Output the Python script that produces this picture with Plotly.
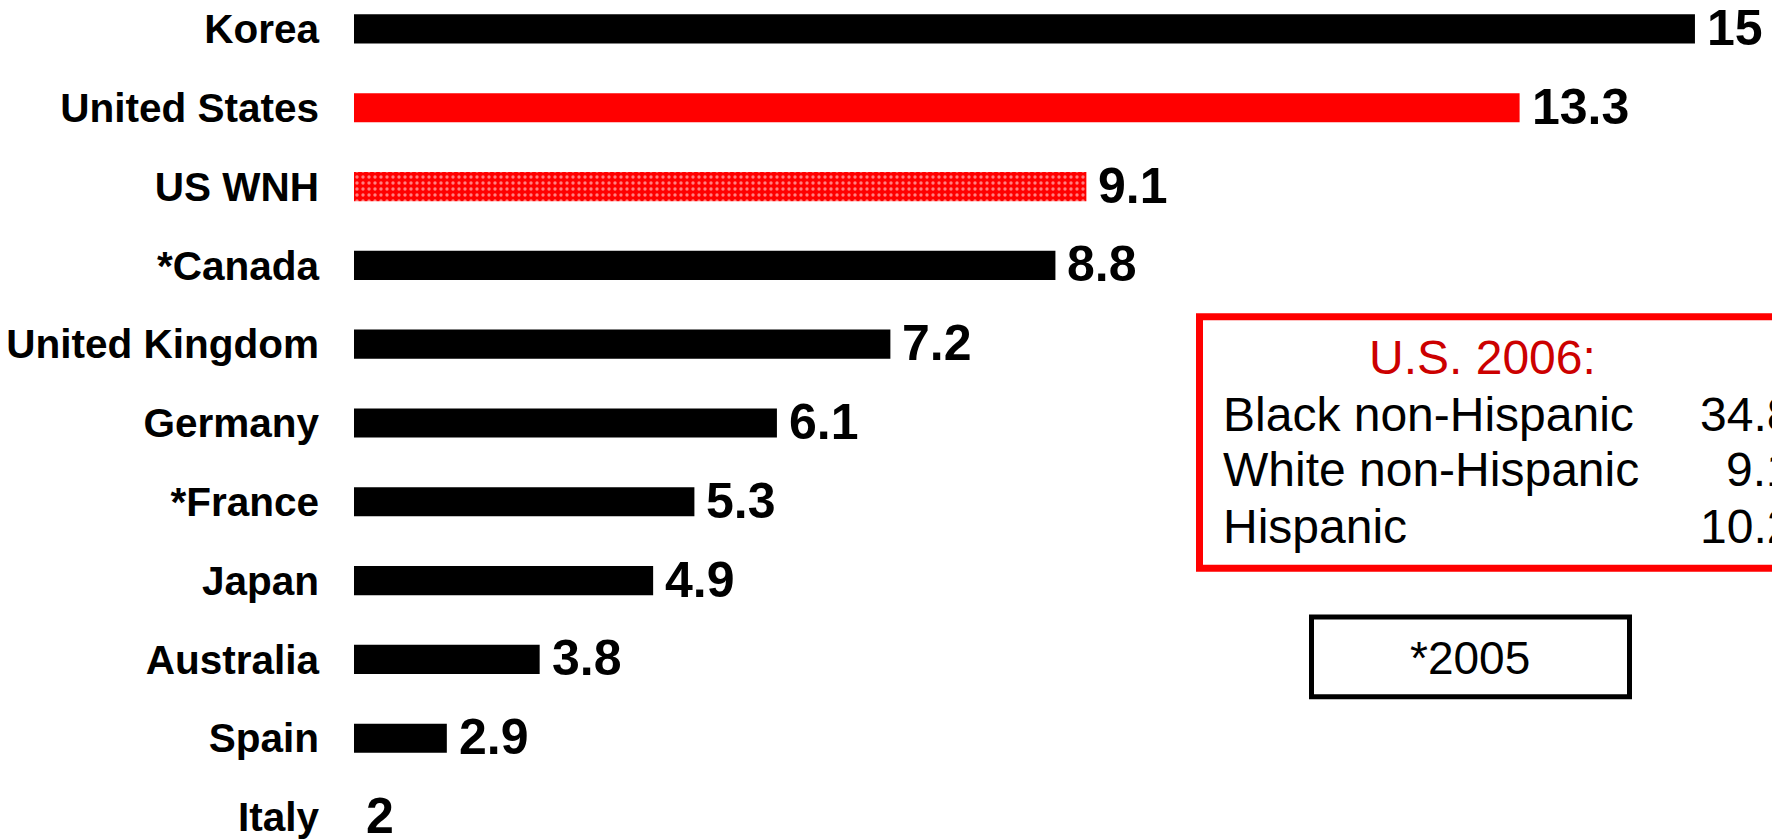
import plotly.graph_objects as go

countries = ["Korea", "United States", "US WNH", "*Canada", "United Kingdom", "Germany",
             "*France", "Japan", "Australia", "Spain", "Italy"]
values = [15, 13.3, 9.1, 8.8, 7.2, 6.1, 5.3, 4.9, 3.8, 2.9, 2]
value_labels = ["15", "13.3", "9.1", "8.8", "7.2", "6.1", "5.3", "4.9", "3.8", "2.9", "2"]
bar_colors = ["#000000", "#FF0000", "#FF0000", "#000000", "#000000", "#000000",
              "#000000", "#000000", "#000000", "#000000", "#000000"]
bar_patterns = ["", "", ".", "", "", "", "", "", "", "", ""]

box_title = "U.S. 2006:"
box_groups = ["Black non-Hispanic", "White non-Hispanic", "Hispanic"]
box_values = ["34.8", "9.1", "10.2"]
footnote = "*2005"

W, H = 1772, 840
L = 354
FONT = "Liberation Sans, Arial, sans-serif"


def px(x):
    return (x - L) / (W - L)


def py(y):
    return 1 - y / H


fig = go.Figure()
fig.add_trace(go.Bar(
    x=values, y=countries, orientation="h",
    marker=dict(color=bar_colors, line=dict(width=0),
                pattern=dict(shape=bar_patterns, fgcolor="white", bgcolor="#FF0000",
                             size=6, solidity=0.25)),
    width=0.37, hoverinfo="skip",
))

annotations = []
for c, v, t in zip(countries, values, value_labels):
    annotations.append(dict(x=v, y=c, xref="x", yref="y", text=t, showarrow=False,
                            xanchor="left", yanchor="middle", xshift=10, yshift=1,
                            font=dict(family=FONT, size=50, color="black", weight="bold")))

annotations.append(dict(x=px(1482), y=py(358), xref="paper", yref="paper", text=box_title,
                        showarrow=False, xanchor="center", yanchor="middle",
                        font=dict(family=FONT, size=48, color="#CC0000")))
rows_y = [415, 471, 528]
for g, v, yy in zip(box_groups, box_values, rows_y):
    annotations.append(dict(x=px(1221), y=py(yy), xref="paper", yref="paper", text=g,
                            showarrow=False, xanchor="left", yanchor="middle",
                            font=dict(family=FONT, size=48, color="black")))
    annotations.append(dict(x=px(1795), y=py(yy), xref="paper", yref="paper", text=v,
                            showarrow=False, xanchor="right", yanchor="middle",
                            font=dict(family=FONT, size=48, color="black")))
annotations.append(dict(x=px(1470), y=py(660), xref="paper", yref="paper", text=footnote,
                        showarrow=False, xanchor="center", yanchor="middle",
                        font=dict(family=FONT, size=46, color="black")))

shapes = [
    dict(type="rect", xref="paper", yref="paper", x0=px(1199.5), x1=px(1800),
         y0=py(317.5), y1=py(569.5), line=dict(color="#FF0000", width=7),
         fillcolor="rgba(0,0,0,0)"),
    dict(type="rect", xref="paper", yref="paper", x0=px(1311.5), x1=px(1629.5),
         y0=py(618.5), y1=py(698.5), line=dict(color="black", width=5),
         fillcolor="rgba(0,0,0,0)"),
]

fig.update_layout(
    width=W, height=H,
    margin=dict(l=L, r=0, t=0, b=0),
    paper_bgcolor="white", plot_bgcolor="white",
    showlegend=False,
    annotations=annotations, shapes=shapes,
    xaxis=dict(range=[2, 2 + (W - L) / 103.15], visible=False, showgrid=False),
    yaxis=dict(type="category", categoryorder="array", categoryarray=countries,
               range=[10.266, -0.367], showgrid=False, zeroline=False, showline=False,
               ticks="", ticklabelstandoff=34,
               tickfont=dict(family=FONT, size=40.5, color="black", weight="bold")),
)

fig.write_html("out.html")
